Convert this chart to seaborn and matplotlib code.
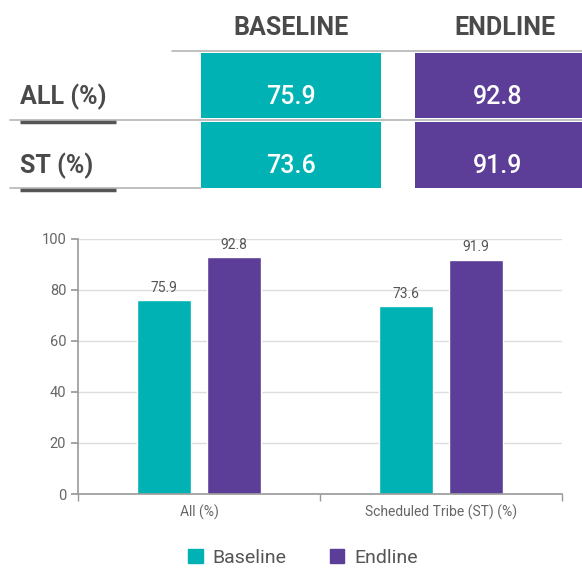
import matplotlib
matplotlib.use("Agg")
import matplotlib.pyplot as plt
import seaborn as sns
import pandas as pd
from matplotlib.patches import Rectangle
from matplotlib.lines import Line2D

categories = ["All (%)", "Scheduled Tribe (ST) (%)"]
row_labels = ["ALL (%)", "ST (%)"]
series = ["Baseline", "Endline"]
baseline = [75.9, 73.6]
endline = [92.8, 91.9]
yticks = [0, 20, 40, 60, 80, 100]

TEAL = "#00B2B4"
PURPLE = "#5C3D97"
colors = {"Baseline": TEAL, "Endline": PURPLE}

sns.set_theme(style="white")
plt.rcParams["font.family"] = ["Roboto", "DejaVu Sans"]

fig = plt.figure(figsize=(5.82, 5.68), dpi=100)

# ---------- top table ----------
W, H = 582, 568
axt = fig.add_axes([0, 0, 1, 1])
axt.set_xlim(0, W)
axt.set_ylim(H, 0)
axt.axis("off")

col_x = [(201, 381), (415, 582)]
row_y = [(53, 118), (122, 188)]
vals = [baseline, endline]
for j, name in enumerate(series):
    x0, x1 = col_x[j]
    axt.text((x0 + x1) / 2 if j == 0 else 505, 28, name.upper(), ha="center", va="center",
             fontsize=18, fontweight="bold", color="#4a4a4a")
    for i in range(len(row_labels)):
        y0, y1 = row_y[i]
        axt.add_patch(Rectangle((x0, y0), x1 - x0, y1 - y0, color=colors[name], lw=0))
        axt.text((x0 + x1) / 2 if j == 0 else 498, (y0 + y1) / 2 + 11, f"{vals[j][i]:.1f}",
                 ha="center", va="center", fontsize=18, fontweight="medium", color="white")

for i, lab in enumerate(row_labels):
    y0, y1 = row_y[i]
    axt.text(20, (y0 + y1) / 2 + 11, lab, ha="left", va="center",
             fontsize=18, fontweight="bold", color="#4a4a4a")

axt.add_line(Line2D([172, 582], [51, 51], color="#b5b5b5", lw=1.2))
axt.add_line(Line2D([10, 582], [120, 120], color="#b5b5b5", lw=1.2))
axt.add_line(Line2D([10, 201], [188, 188], color="#b5b5b5", lw=1.2))
axt.add_line(Line2D([20, 116], [122, 122], color="#555555", lw=2.5, solid_capstyle="butt"))
axt.add_line(Line2D([20, 116], [190, 190], color="#555555", lw=2.5, solid_capstyle="butt"))

# ---------- bar chart ----------
df = pd.DataFrame({
    "category": categories * 2,
    "series": [series[0]] * 2 + [series[1]] * 2,
    "value": baseline + endline,
})

ax = fig.add_axes([78 / W, 1 - 494 / H, (562 - 78) / W, (494 - 239) / H])
sns.barplot(data=df, x="category", y="value", hue="series", palette=colors,
            width=0.58, gap=0.23, ax=ax, legend=False, saturation=1)

for c in ax.containers:
    ax.bar_label(c, labels=[f"{v:.1f}" for v in c.datavalues], padding=4,
                 fontsize=10, color="#555555")

ax.set_ylim(0, 100)
ax.set_xlim(-0.5, 1.5)
ax.set_yticks(yticks)
ax.yaxis.grid(True, color="#dddddd", lw=1)
ax.set_axisbelow(True)
ax.set_xlabel("")
ax.set_ylabel("")
for s in ["top", "right"]:
    ax.spines[s].set_visible(False)
for s in ["left", "bottom"]:
    ax.spines[s].set_color("#999999")
    ax.spines[s].set_linewidth(1.2)
ax.tick_params(axis="y", length=5, color="#999999", labelsize=10.5, labelcolor="#666666", left=True)
ax.tick_params(axis="x", which="major", length=0, labelsize=10, labelcolor="#666666", pad=8)
ax.set_xticks([-0.5, 0.5, 1.5], minor=True)
ax.tick_params(axis="x", which="minor", length=5, color="#999999", bottom=True)

handles = [Rectangle((0, 0), 1, 1, color=colors[s]) for s in series]
fig.legend(handles, series, loc="center", bbox_to_anchor=(303 / W, 1 - 558 / H), ncol=2,
           frameon=False, fontsize=14, handlelength=0.75, handleheight=0.75,
           columnspacing=2.2, handletextpad=0.5, labelcolor="#555555")

fig.savefig("out.png", dpi=100)
